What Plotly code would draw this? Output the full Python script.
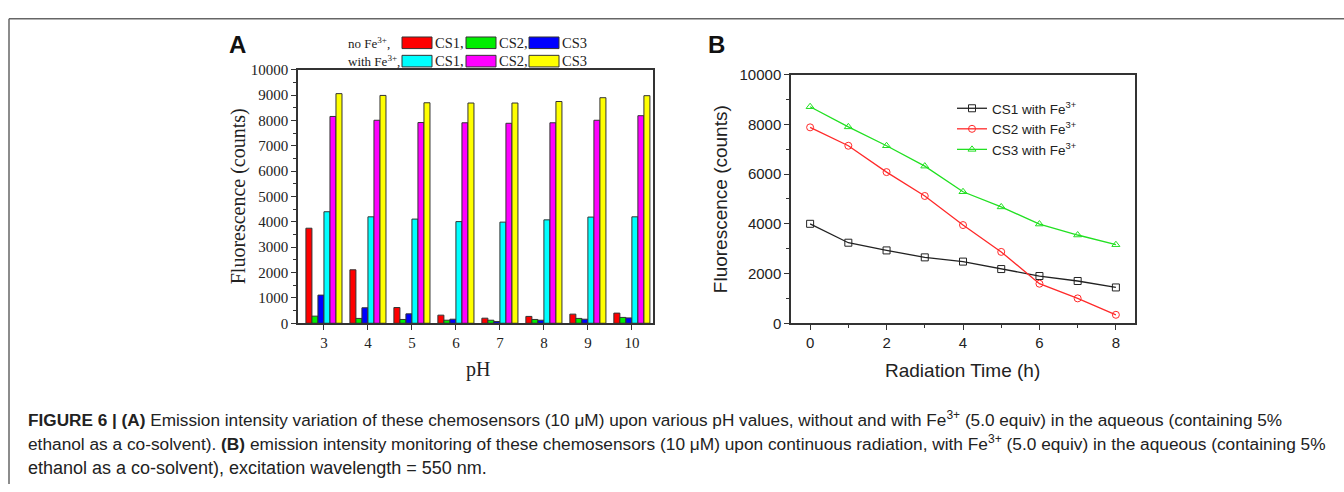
import plotly.graph_objects as go

W, H = 1344, 492

# ---------------- data: panel A ----------------
ph = [3, 4, 5, 6, 7, 8, 9, 10]
no_fe_cs1 = [3750, 2110, 620, 320, 200, 270, 360, 400]
no_fe_cs2 = [280, 190, 150, 120, 120, 150, 190, 230]
no_fe_cs3 = [1110, 610, 370, 160, 70, 120, 160, 210]
fe_cs1 = [4400, 4200, 4110, 4010, 3990, 4080, 4190, 4200]
fe_cs2 = [8160, 8010, 7920, 7910, 7890, 7910, 8010, 8190]
fe_cs3 = [9060, 8990, 8700, 8690, 8690, 8750, 8900, 8980]

a_series = ["CS1", "CS2", "CS3", "CS1", "CS2", "CS3"]
a_colors = ["#ff0000", "#00ee00", "#0000ff", "#00ffff", "#ff00ff", "#ffff00"]

# ---------------- data: panel B ----------------
time_h = [0, 1, 2, 3, 4, 5, 6, 7, 8]
cs1_fe = [4000, 3240, 2930, 2650, 2480, 2180, 1900, 1700, 1440]
cs2_fe = [7880, 7140, 6080, 5120, 3950, 2870, 1590, 1000, 340]
cs3_fe = [8710, 7900, 7140, 6320, 5290, 4680, 3990, 3550, 3160]
b_names = ["CS1 with Fe<sup>3+</sup>", "CS2 with Fe<sup>3+</sup>", "CS3 with Fe<sup>3+</sup>"]


def px(x):
    return x / W


def py(y):
    return 1 - y / H


fig = go.Figure()

serif = "Liberation Serif"
sans = "Liberation Sans"

for vals, col, nm in zip([no_fe_cs1, no_fe_cs2, no_fe_cs3, fe_cs1, fe_cs2, fe_cs3], a_colors, a_series):
    fig.add_trace(go.Bar(x=ph, y=vals, name=nm, marker=dict(color=col, line=dict(color="#333333", width=1)),
                         xaxis="x", yaxis="y", showlegend=False))

b_styles = [("#222222", "square-open"), ("#ff2a2a", "circle-open"), ("#22e022", "triangle-up-open")]
for vals, (col, sym), nm in zip([cs1_fe, cs2_fe, cs3_fe], b_styles, b_names):
    fig.add_trace(go.Scatter(x=time_h, y=vals, name=nm, mode="lines+markers",
                             line=dict(color=col, width=1.3),
                             marker=dict(symbol=sym, size=7, color=col, line=dict(width=1, color=col)),
                             xaxis="x2", yaxis="y2"))

axis_common = dict(showline=True, mirror=True, linecolor="#333333", linewidth=1.5,
                   ticks="outside", tickcolor="#333333", showgrid=False, zeroline=False)

fig.update_layout(
    width=W, height=H,
    margin=dict(l=0, r=0, t=0, b=0),
    paper_bgcolor="white", plot_bgcolor="white",
    barmode="group", bargap=0.18, bargroupgap=0,
    xaxis=dict(domain=[px(298), px(653)], range=[2.41, 10.48], tickvals=ph, ticklen=5,
               tickfont=dict(family=serif, size=15, color="#222"), anchor="y", **axis_common),
    yaxis=dict(domain=[py(325.5), py(63)], range=[0, 10000], dtick=1000, ticklen=5, tickformat="d",
               tickfont=dict(family=serif, size=15, color="#222"), anchor="x",
               minor=dict(dtick=500, ticks="outside", ticklen=3, tickcolor="#333333"), **axis_common),
    xaxis2=dict(domain=[px(791), px(1135)], range=[-0.5, 8.5], dtick=2, ticklen=5,
                tickfont=dict(family=sans, size=15, color="#222"), anchor="y2",
                minor=dict(dtick=1, ticks="outside", ticklen=3, tickcolor="#333333"), **axis_common),
    yaxis2=dict(domain=[py(325.5), py(68)], range=[0, 10000], dtick=2000, ticklen=5, tickformat="d",
                tickfont=dict(family=sans, size=15, color="#222"), anchor="x2",
                minor=dict(dtick=1000, ticks="outside", ticklen=3, tickcolor="#333333"), **axis_common),
    legend=dict(x=px(952), y=py(87), xanchor="left", yanchor="top", bgcolor="rgba(0,0,0,0)",
                font=dict(family=sans, size=13.5, color="#222"), itemwidth=30, tracegroupgap=0),
)

shapes = []
# figure frame (top and left)
shapes.append(dict(type="line", xref="paper", yref="paper", x0=px(9), x1=1, y0=py(10), y1=py(10),
                   line=dict(color="#666666", width=1.5)))
shapes.append(dict(type="line", xref="paper", yref="paper", x0=px(9), x1=px(9), y0=py(10), y1=0,
                   line=dict(color="#666666", width=1.5)))

# legend boxes for panel A
box_x = [(402, 432), (466, 496), (529, 559)]
rows_y = [(29, 41), (48, 60)]
for r, (y0, y1) in enumerate(rows_y):
    for k, (x0, x1) in enumerate(box_x):
        shapes.append(dict(type="rect", xref="paper", yref="paper", x0=px(x0), x1=px(x1), y0=py(y1), y1=py(y0),
                           fillcolor=a_colors[r * 3 + k], line=dict(color="#333333", width=1)))
fig.update_layout(shapes=shapes)

ann = []
row_titles = ["no Fe<sup>3+</sup>,", "with Fe<sup>3+</sup>,"]
for r, (y0, y1) in enumerate(rows_y):
    yc = (y0 + y1) / 2
    ann.append(dict(text=row_titles[r], x=px(346), y=py(yc), xanchor="left", yanchor="middle",
                    xref="paper", yref="paper", showarrow=False,
                    font=dict(family=serif, size=13, color="#222")))
    for k, (x0, x1) in enumerate(box_x):
        lab = a_series[r * 3 + k] + ("," if k < 2 else "")
        ann.append(dict(text=lab, x=px(x1 + 1), y=py(yc), xanchor="left", yanchor="middle",
                        xref="paper", yref="paper", showarrow=False,
                        font=dict(family=serif, size=14.5, color="#222")))


def centred(text, x, y, family, size, angle=0, color="#222"):
    return dict(text=text, x=px(x), y=py(y), xanchor="center", yanchor="middle", textangle=angle,
                xref="paper", yref="paper", showarrow=False, font=dict(family=family, size=size, color=color))


# axis titles and panel letters
ann += [
    centred("Fluorescence (counts)", 238, 194, serif, 20, -90),
    centred("pH", 478, 373, serif, 20),
    centred("Fluorescence (counts)", 720, 197, sans, 19, -90),
    centred("Radiation Time (h)", 962, 374, sans, 19),
    centred("<b>A</b>", 237, 37, sans, 24, color="#111"),
    centred("<b>B</b>", 716, 37, sans, 24, color="#111"),
]

caption = [
    "<b>FIGURE 6 | (A)</b> Emission intensity variation of these chemosensors (10 μM) upon various pH values, "
    "without and with Fe<sup>3+</sup> (5.0 equiv) in the aqueous (containing 5%",
    "ethanol as a co-solvent). <b>(B)</b> emission intensity monitoring of these chemosensors (10 μM) upon "
    "continuous radiation, with Fe<sup>3+</sup> (5.0 equiv) in the aqueous (containing 5%",
    "ethanol as a co-solvent), excitation wavelength = 550 nm.",
]
cap_y = [425, 450, 475]
cap_size = [17.2, 17.3, 18]
for t, yy, sz in zip(caption, cap_y, cap_size):
    ann.append(dict(text=t, x=px(26), y=py(yy), xanchor="left", yanchor="middle", xref="paper", yref="paper",
                    showarrow=False, font=dict(family=sans, size=sz, color="#222")))

fig.update_layout(annotations=ann)

fig.write_html(
    "out.html",
    config={"displayModeBar": False},
    post_script=("document.documentElement.style.margin='0';document.body.style.margin='0';"
                 "document.body.style.overflow='hidden';"
                 "var d=document.getElementById('{plot_id}');d.style.position='fixed';"
                 "d.style.left='0px';d.style.top='0px';"),
)
